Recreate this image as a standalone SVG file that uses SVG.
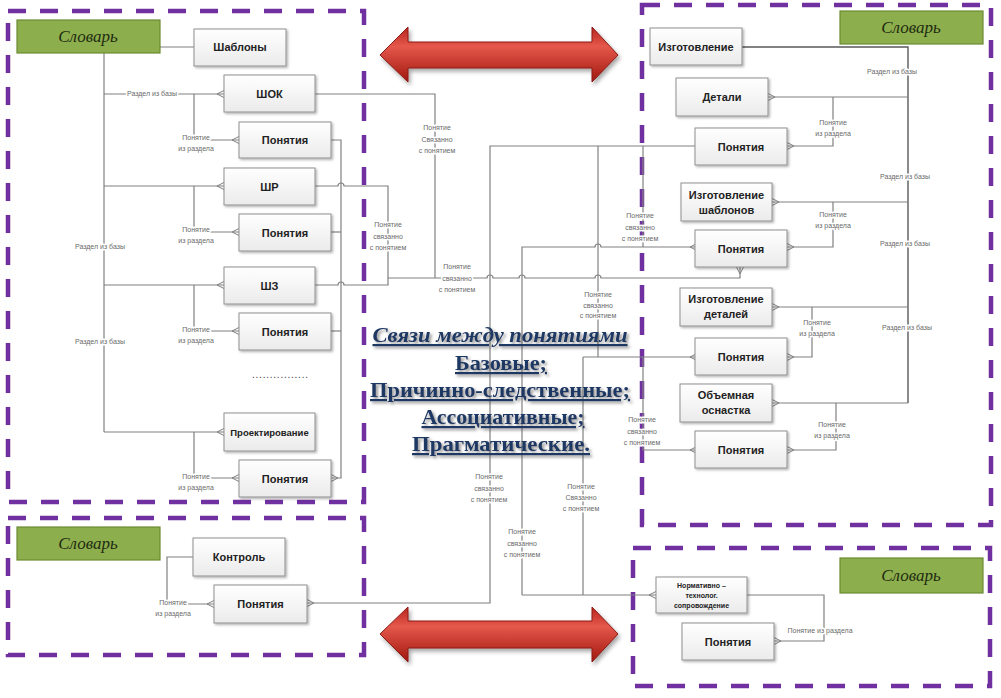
<svg xmlns="http://www.w3.org/2000/svg" width="1001" height="698" viewBox="0 0 1001 698">
<defs>
<style>
.zone{fill:none;stroke:#7030A0;stroke-width:4.5;stroke-dasharray:18 14}
.dict{fill:#8DAE4C;stroke:#6B8A32;stroke-width:1.2}
.dt{font-family:"Liberation Serif",serif;font-style:italic;font-size:17px;fill:#1d2a12;text-anchor:middle}
.box{fill:url(#bg);stroke:#8f8f8f;stroke-width:1;filter:url(#sh)}
.bt{font-family:"Liberation Sans",Arial,sans-serif;font-weight:bold;font-size:11px;fill:#222;text-anchor:middle}
.c{fill:none;stroke:#808080;stroke-width:1.2}
.cd{fill:none;stroke:#5a5a5a;stroke-width:1.4}
.lbl{font-family:"Liberation Sans",Arial,sans-serif;font-size:7px;fill:#6a6a6a;text-anchor:middle;stroke:#fff;stroke-width:3;paint-order:stroke;stroke-linejoin:round}
.ct{font-family:"Liberation Serif",serif;font-weight:bold;font-size:22px;fill:#1F3864;text-anchor:middle;text-decoration:underline;filter:url(#tsh)}
.arr{fill:url(#rg);stroke:#8B1A14;stroke-width:1;filter:url(#ash)}
</style>
<linearGradient id="bg" x1="0" y1="0" x2="0" y2="1"><stop offset="0" stop-color="#ffffff"/><stop offset="1" stop-color="#ebebeb"/></linearGradient>
<linearGradient id="rg" x1="0" y1="0" x2="0" y2="1"><stop offset="0" stop-color="#B8251E"/><stop offset="0.35" stop-color="#E5584B"/><stop offset="1" stop-color="#A0170F"/></linearGradient>
<filter id="sh" x="-10%" y="-10%" width="130%" height="140%"><feDropShadow dx="1.5" dy="1.5" stdDeviation="1" flood-color="#000" flood-opacity="0.3"/></filter>
<filter id="tsh" x="-5%" y="-20%" width="115%" height="160%"><feDropShadow dx="2" dy="2" stdDeviation="1.5" flood-color="#444" flood-opacity="0.6"/></filter>
<filter id="ash" x="-5%" y="-20%" width="115%" height="160%"><feDropShadow dx="2" dy="3" stdDeviation="2" flood-color="#000" flood-opacity="0.35"/></filter>
<marker id="cf" viewBox="-9 -5 10 10" refX="0" refY="0" markerWidth="10" markerHeight="10" markerUnits="userSpaceOnUse" orient="auto"><path d="M-7,0 L0,-3.5 M-7,0 L0,3.5" fill="none" stroke="#7f7f7f" stroke-width="1"/></marker>
</defs>
<rect width="1001" height="698" fill="#fff"/>

<g id="zones">
<rect class="zone" x="8" y="11" width="356" height="491"/>
<rect class="zone" x="8" y="518" width="356" height="137"/>
<rect class="zone" x="642" y="5" width="349" height="520"/>
<rect class="zone" x="633" y="548" width="357" height="138"/>
</g>

<g id="arrows">
<path class="arr" d="M380,55 L408,27 L408,42 L592,42 L592,27 L618,55 L592,82 L592,68 L408,68 L408,82 Z"/>
<path class="arr" d="M380,634 L408,607 L408,621 L592,621 L592,607 L618,634 L592,662 L592,648 L408,648 L408,662 Z"/>
</g>

<g id="connectors">
<path class="c" d="M160,47 H194"/>
<path class="c" d="M104,53 V432"/>
<path class="c" d="M104,94 H224" marker-end="url(#cf)"/>
<path class="c" d="M104,186 H224" marker-end="url(#cf)"/>
<path class="c" d="M104,285 H224" marker-end="url(#cf)"/>
<path class="c" d="M104,432 H224" marker-end="url(#cf)"/>
<path class="c" d="M194,94 V140 H239" marker-end="url(#cf)"/>
<path class="c" d="M194,186 V232 H239" marker-end="url(#cf)"/>
<path class="c" d="M194,285 V331 H239" marker-end="url(#cf)"/>
<path class="c" d="M194,432 V478 H239" marker-end="url(#cf)"/>
<path class="c" d="M331,140 H341 V478 H331" marker-end="url(#cf)"/>
<path class="c" d="M331,232 H341"/>
<path class="c" d="M331,331 H341"/>
<path class="c" d="M315,94 H435 V278"/>
<path class="c" d="M315,186 H338 a3,3 0 0 1 6,0 H388 V278"/>
<path class="c" d="M315,285 H338 a3,3 0 0 1 6,0 H388 V278"/>
<path class="c" d="M388,278 H487 a3,3 0 0 1 6,0 H519 a3,3 0 0 1 6,0 H595 a3,3 0 0 1 6,0 H740 V267" marker-end="url(#cf)"/>
<path class="c" d="M697,146 H490 V603 H307" marker-end="url(#cf)"/>
<path class="c" d="M598,146 V357"/>
<path class="c" d="M583,357 H697" marker-end="url(#cf)"/>
<path class="c" d="M583,357 V595"/>
<path class="c" d="M522,595 V247 H595 a3,3 0 0 1 6,0 H697" marker-end="url(#cf)"/>
<path class="c" d="M522,595 H656" marker-end="url(#cf)"/>
<path class="c" d="M643,146 V247"/>
<path class="c" d="M643,357 V450 H697" marker-end="url(#cf)"/>
<path class="cd" d="M742,47 H908 V403"/>
<path class="c" d="M908,97 H768" marker-end="url(#cf)"/>
<path class="c" d="M908,202 H772" marker-end="url(#cf)"/>
<path class="c" d="M908,307 H772" marker-end="url(#cf)"/>
<path class="c" d="M908,403 H772" marker-end="url(#cf)"/>
<path class="c" d="M833,97 V146 H787" marker-end="url(#cf)"/>
<path class="c" d="M833,202 V247 H787" marker-end="url(#cf)"/>
<path class="c" d="M812,307 V357 H787" marker-end="url(#cf)"/>
<path class="c" d="M836,403 V450 H787" marker-end="url(#cf)"/>
<path class="c" d="M193,557 H167 V604 H214" marker-end="url(#cf)"/>
<path class="c" d="M747,595 H824 V641 H774" marker-end="url(#cf)"/>

<text class="lbl" x="152" y="96">Раздел из базы</text>
<text class="lbl" x="100" y="249">Раздел из базы</text>
<text class="lbl" x="100" y="344">Раздел из базы</text>
<text class="lbl" y="140"><tspan x="196">Понятие</tspan><tspan x="196" dy="11">из раздела</tspan></text>
<text class="lbl" y="232"><tspan x="196">Понятие</tspan><tspan x="196" dy="11">из раздела</tspan></text>
<text class="lbl" y="332"><tspan x="196">Понятие</tspan><tspan x="196" dy="11">из раздела</tspan></text>
<text class="lbl" y="479"><tspan x="196">Понятие</tspan><tspan x="196" dy="11">из раздела</tspan></text>
<text class="lbl" y="605"><tspan x="173">Понятие</tspan><tspan x="173" dy="11">из раздела</tspan></text>

<text class="lbl" y="130"><tspan x="437">Понятие</tspan><tspan x="437" dy="11.5">Связанно</tspan><tspan x="437" dy="11.5">с понятием</tspan></text>
<text class="lbl" y="227"><tspan x="388">Понятие</tspan><tspan x="388" dy="11.5">связанно</tspan><tspan x="388" dy="11.5">с понятием</tspan></text>
<text class="lbl" y="269"><tspan x="457">Понятие</tspan><tspan x="457" dy="11.5">связанно</tspan><tspan x="457" dy="11.5">с понятием</tspan></text>
<text class="lbl" y="218"><tspan x="640">Понятие</tspan><tspan x="640" dy="11.5">связанно</tspan><tspan x="640" dy="11.5">с понятием</tspan></text>
<text class="lbl" y="297"><tspan x="598">Понятие</tspan><tspan x="598" dy="10.5">связанно</tspan><tspan x="598" dy="10.5">с понятием</tspan></text>
<text class="lbl" y="422"><tspan x="642">Понятие</tspan><tspan x="642" dy="11.5">связанно</tspan><tspan x="642" dy="11.5">с понятием</tspan></text>
<text class="lbl" y="479"><tspan x="489">Понятие</tspan><tspan x="489" dy="11.5">связанно</tspan><tspan x="489" dy="11.5">с понятием</tspan></text>
<text class="lbl" y="489"><tspan x="581">Понятие</tspan><tspan x="581" dy="11">Связанно</tspan><tspan x="581" dy="11">с понятием</tspan></text>
<text class="lbl" y="534"><tspan x="522">Понятие</tspan><tspan x="522" dy="11.5">связанно</tspan><tspan x="522" dy="11.5">с понятием</tspan></text>

<text class="lbl" x="892" y="74">Раздел из базы</text>
<text class="lbl" x="905" y="179">Раздел из базы</text>
<text class="lbl" x="905" y="246">Раздел из базы</text>
<text class="lbl" x="907" y="330">Раздел из базы</text>
<text class="lbl" y="125"><tspan x="833">Понятие</tspan><tspan x="833" dy="11">из раздела</tspan></text>
<text class="lbl" y="217"><tspan x="833">Понятие</tspan><tspan x="833" dy="11">из раздела</tspan></text>
<text class="lbl" y="325"><tspan x="817">Понятие</tspan><tspan x="817" dy="11">из раздела</tspan></text>
<text class="lbl" y="427"><tspan x="832">Понятие</tspan><tspan x="832" dy="11">из раздела</tspan></text>
<text class="lbl" x="820" y="633">Понятие из раздела</text>
</g>

<g id="dict-tl"><rect class="dict" x="17" y="20" width="143" height="33"/><text class="dt" x="88" y="42">Словарь</text></g>
<g id="dict-bl"><rect class="dict" x="17" y="527" width="143" height="33"/><text class="dt" x="88" y="549">Словарь</text></g>
<g id="dict-tr"><rect class="dict" x="840" y="11" width="143" height="33"/><text class="dt" x="911" y="33">Словарь</text></g>
<g id="dict-br"><rect class="dict" x="840" y="558" width="143" height="35"/><text class="dt" x="911" y="581">Словарь</text></g>

<g id="shablony"><rect class="box" x="194" y="29" width="92" height="37"/><text class="bt" x="240" y="51">Шаблоны</text></g>
<g id="shok"><rect class="box" x="224" y="75" width="91" height="37"/><text class="bt" x="269.5" y="97.5">ШОК</text></g>
<g id="pon-tl1"><rect class="box" x="239" y="122" width="92" height="36"/><text class="bt" x="285" y="144">Понятия</text></g>
<g id="shr"><rect class="box" x="224" y="168" width="91" height="37"/><text class="bt" x="269.5" y="190.5">ШР</text></g>
<g id="pon-tl2"><rect class="box" x="239" y="214" width="92" height="37"/><text class="bt" x="285" y="236.5">Понятия</text></g>
<g id="shz"><rect class="box" x="224" y="267" width="91" height="37"/><text class="bt" x="269.5" y="289.5">ШЗ</text></g>
<g id="pon-tl3"><rect class="box" x="239" y="313" width="92" height="37"/><text class="bt" x="285" y="335.5">Понятия</text></g>
<g id="dots"><text x="280" y="378" font-family="Liberation Sans, Arial, sans-serif" font-size="10" fill="#444" text-anchor="middle" textLength="56" lengthAdjust="spacing">................</text></g>
<g id="proekt"><rect class="box" x="224" y="413" width="91" height="38"/><text class="bt" x="269.5" y="435.5" style="font-size:9.5px">Проектирование</text></g>
<g id="pon-tl4"><rect class="box" x="239" y="460" width="92" height="37"/><text class="bt" x="285" y="482.5">Понятия</text></g>

<g id="kontrol"><rect class="box" x="193" y="538" width="92" height="38"/><text class="bt" x="239" y="561">Контроль</text></g>
<g id="pon-bl"><rect class="box" x="214" y="585" width="93" height="38"/><text class="bt" x="260.5" y="608">Понятия</text></g>

<g id="izgot"><rect class="box" x="650" y="28" width="92" height="37"/><text class="bt" x="696" y="50.5">Изготовление</text></g>
<g id="detali"><rect class="box" x="676" y="78" width="92" height="38"/><text class="bt" x="722" y="101">Детали</text></g>
<g id="pon-tr1"><rect class="box" x="695" y="128" width="92" height="37"/><text class="bt" x="741" y="150.5">Понятия</text></g>
<g id="izgot-shabl"><rect class="box" x="681" y="183" width="91" height="38"/><text class="bt" x="726.5" y="199">Изготовление</text><text class="bt" x="726.5" y="214">шаблонов</text></g>
<g id="pon-tr2"><rect class="box" x="695" y="230" width="92" height="37"/><text class="bt" x="741" y="252.5">Понятия</text></g>
<g id="izgot-det"><rect class="box" x="680" y="288" width="92" height="38"/><text class="bt" x="726" y="303">Изготовление</text><text class="bt" x="726" y="318">деталей</text></g>
<g id="pon-tr3"><rect class="box" x="695" y="338" width="92" height="37"/><text class="bt" x="741" y="360.5">Понятия</text></g>
<g id="obem"><rect class="box" x="680" y="384" width="92" height="38"/><text class="bt" x="726" y="399">Объемная</text><text class="bt" x="726" y="414">оснастка</text></g>
<g id="pon-tr4"><rect class="box" x="695" y="431" width="92" height="37"/><text class="bt" x="741" y="453.5">Понятия</text></g>

<g id="normat"><rect class="box" x="656" y="577" width="91" height="36"/><text class="bt" x="701.5" y="588" style="font-size:7px">Нормативно –</text><text class="bt" x="701.5" y="598" style="font-size:7px">технолог.</text><text class="bt" x="701.5" y="608" style="font-size:7px">сопровождение</text></g>
<g id="pon-br"><rect class="box" x="682" y="623" width="92" height="37"/><text class="bt" x="728" y="645.5">Понятия</text></g>

<g id="center-text">
<text class="ct" x="500" y="342" font-style="italic" textLength="255" lengthAdjust="spacingAndGlyphs">Связи между понятиями</text>
<text class="ct" x="501" y="370" textLength="92" lengthAdjust="spacingAndGlyphs">Базовые;</text>
<text class="ct" x="500" y="397" textLength="260" lengthAdjust="spacingAndGlyphs">Причинно-следственные;</text>
<text class="ct" x="503" y="424" textLength="163" lengthAdjust="spacingAndGlyphs">Ассоциативные;</text>
<text class="ct" x="501" y="451" textLength="178" lengthAdjust="spacingAndGlyphs">Прагматические.</text>
</g>
</svg>
